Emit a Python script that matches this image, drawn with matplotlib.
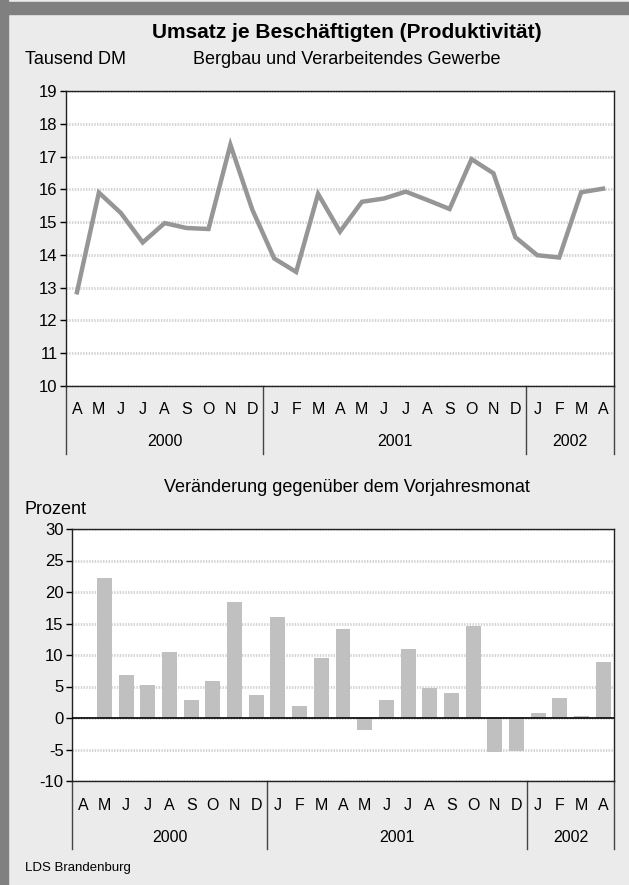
import matplotlib
matplotlib.use('Agg')
import matplotlib.pyplot as plt
from matplotlib.patches import Rectangle
from matplotlib.transforms import blended_transform_factory

plt.rcParams['font.family'] = ['Liberation Sans', 'DejaVu Sans']
plt.rcParams['axes.unicode_minus'] = False

# April 2000 .. April 2002
months = ['A', 'M', 'J', 'J', 'A', 'S', 'O', 'N', 'D',
          'J', 'F', 'M', 'A', 'M', 'J', 'J', 'A', 'S', 'O', 'N', 'D',
          'J', 'F', 'M', 'A']
years = ['2000', '2001', '2002']
year_lengths = [9, 12, 4]

# Umsatz je Beschaeftigten, Tausend DM
umsatz = [12.86, 15.90, 15.28, 14.38, 14.97, 14.82, 14.79, 17.36, 15.38,
          13.89, 13.48, 15.86, 14.71, 15.62, 15.72, 15.93, 15.67, 15.40,
          16.92, 16.49, 14.54, 13.99, 13.92, 15.91, 16.02]

# Veraenderung gegenueber dem Vorjahresmonat, Prozent (April 2000 fehlt)
veraenderung = [None, 22.2, 6.8, 5.2, 10.4, 2.9, 5.8, 18.4, 3.7, 16.1,
                1.9, 9.6, 14.2, -1.9, 2.9, 11.0, 4.8, 4.0, 14.6,
                -5.4, -5.3, 0.8, 3.2, 0.3, 8.9]

W, H = 629, 885
fig = plt.figure(figsize=(W / 100, H / 100), dpi=100, facecolor='#ebebeb')

# dark frame left and top
fig.patches.append(Rectangle((0, 0), 8 / W, 1, transform=fig.transFigure,
                             color='#808080', zorder=0))
fig.patches.append(Rectangle((0, 1 - 14 / H), 1, 12 / H, transform=fig.transFigure,
                             color='#808080', zorder=0))


def px_axes(left, top, right, bottom):
    return fig.add_axes([left / W, 1 - bottom / H, (right - left) / W, (bottom - top) / H])


def style_axes(ax):
    ax.set_facecolor('white')
    for s in ax.spines.values():
        s.set_color('#222222')
        s.set_linewidth(1)
    ax.yaxis.grid(True, color='#d2d2d2', linestyle=(0, (0.5, 0.5)), linewidth=2)
    ax.set_axisbelow(True)
    ax.tick_params(axis='y', length=4, width=1, pad=2, labelsize=12)
    ax.tick_params(axis='x', length=0)
    ax.set_xticks([])


def category_axis(ax, height_px, drop_px=68):
    n = len(months)
    ax.set_xlim(0, n)
    trans = blended_transform_factory(ax.transData, ax.transAxes)
    px = 1 / height_px
    for i, m in enumerate(months):
        ax.text(i + 0.5, -24 * px, m, transform=trans, ha='center', va='center',
                fontsize=11.5)
    start = 0
    bounds = [0]
    for y, n_m in zip(years, year_lengths):
        ax.text(start + n_m / 2, -56 * px, y, transform=trans, ha='center',
                va='center', fontsize=11.5)
        start += n_m
        bounds.append(start)
    for b in bounds:
        ax.plot([b, b], [0, -drop_px * px], transform=trans, color='#444444',
                lw=1, clip_on=False)


# top chart: line
ax1 = px_axes(66, 91, 614, 386)
style_axes(ax1)
x = [i + 0.5 for i in range(len(months))]
ax1.plot(x, umsatz, color='#969696', lw=3.2, solid_joinstyle='miter')
ax1.set_ylim(10, 19)
ax1.set_yticks(range(10, 20))
category_axis(ax1, 295)

# bottom chart: bars
ax2 = px_axes(72, 529, 614, 781)
style_axes(ax2)
bx = [x[i] for i, v in enumerate(veraenderung) if v is not None]
bv = [v for v in veraenderung if v is not None]
ax2.bar(bx, bv, width=0.69, color='#c0c0c0', zorder=2)
ax2.axhline(0, color='black', lw=1.2, zorder=3)
ax2.set_ylim(-10, 30)
ax2.set_yticks(range(-10, 31, 5))
category_axis(ax2, 252)

# texts
fig.text(347 / W, 1 - 33 / H, 'Umsatz je Beschäftigten (Produktivität)',
         ha='center', va='center', fontsize=15, fontweight='bold')
fig.text(25 / W, 1 - 60 / H, 'Tausend DM', ha='left', va='center', fontsize=13)
fig.text(347 / W, 1 - 60 / H, 'Bergbau und Verarbeitendes Gewerbe',
         ha='center', va='center', fontsize=13)
fig.text(347 / W, 1 - 488 / H, 'Veränderung gegenüber dem Vorjahresmonat',
         ha='center', va='center', fontsize=13)
fig.text(25 / W, 1 - 510 / H, 'Prozent', ha='left', va='center', fontsize=13)
fig.text(25 / W, 1 - 868 / H, 'LDS Brandenburg', ha='left', va='center', fontsize=9.5)

fig.savefig('out.png', dpi=100, facecolor=fig.get_facecolor())
